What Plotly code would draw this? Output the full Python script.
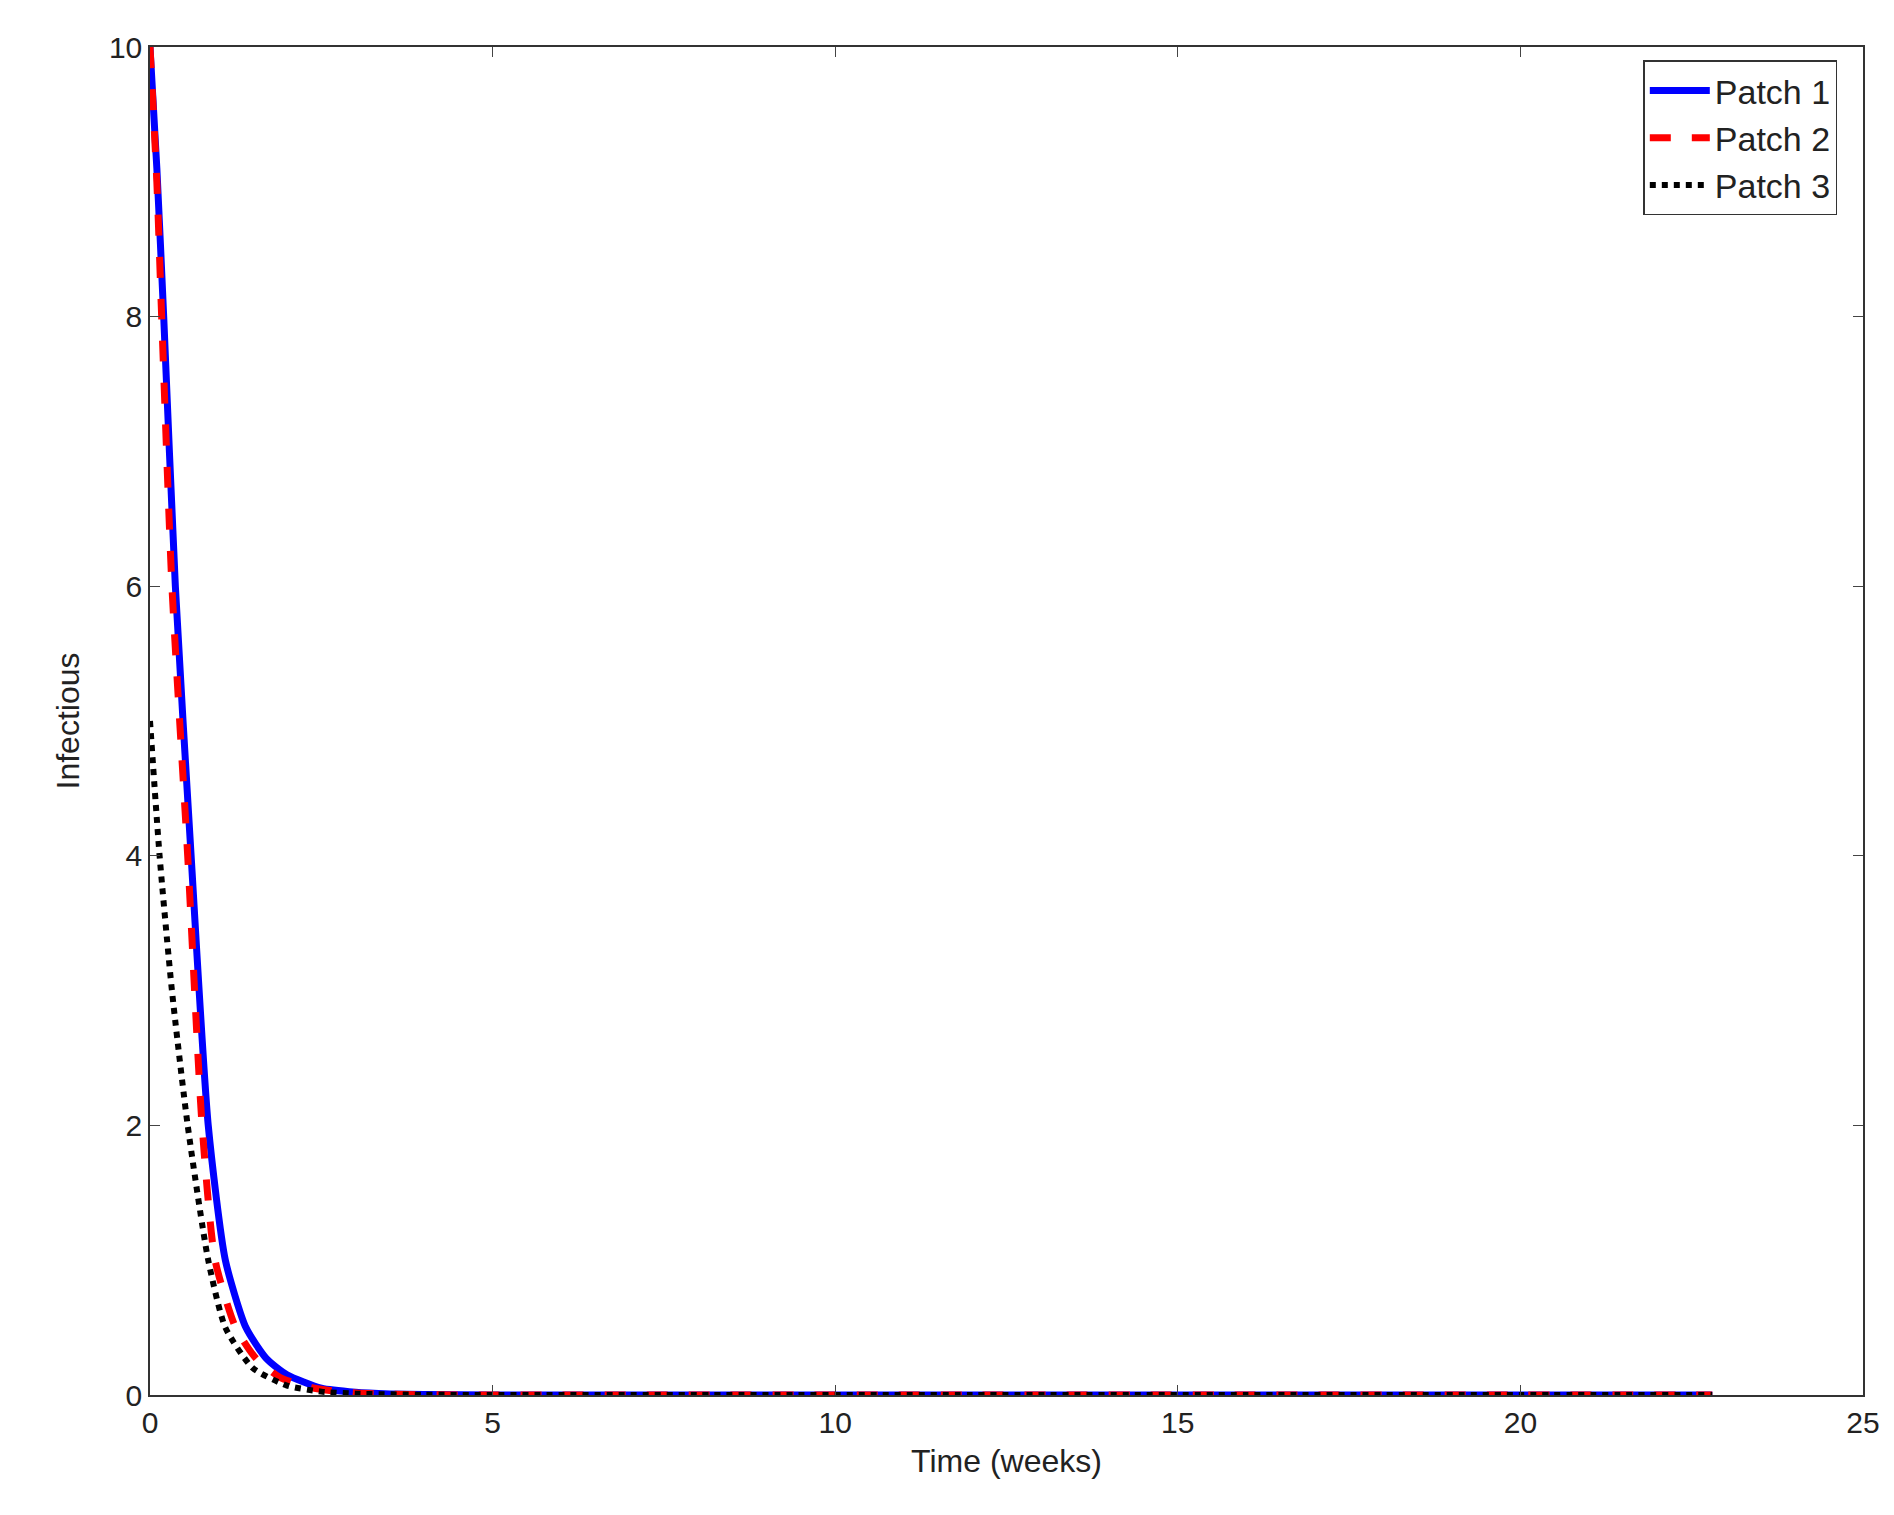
import plotly.graph_objects as go

t1 = [0, 0.1, 0.2, 0.37, 0.6, 0.85, 1.1, 1.4, 1.7, 2.0, 2.5, 3.0, 3.5, 4.0, 5, 8, 12, 16, 20, 22.8]
patch1 = [10, 9.1, 8.0, 6.0, 4.0, 2.0, 1.0, 0.5, 0.27, 0.15, 0.05, 0.02, 0.008, 0.003, 0, 0, 0, 0, 0, 0]
t2 = [0, 0.1, 0.17, 0.32, 0.55, 0.76, 0.95, 1.25, 1.55, 1.9, 2.4, 3.0, 3.5, 4.0, 5, 8, 12, 16, 20, 22.8]
patch2 = [10, 9.0, 8.0, 6.0, 4.0, 2.0, 1.0, 0.5, 0.27, 0.13, 0.05, 0.015, 0.006, 0.002, 0, 0, 0, 0, 0, 0]
t3 = [0, 0.14, 0.32, 0.55, 0.85, 1.1, 1.5, 2.0, 2.5, 3.0, 4.0, 5, 8, 12, 16, 20, 22.8]
patch3 = [5, 4.0, 3.0, 2.0, 1.0, 0.5, 0.2, 0.07, 0.025, 0.01, 0.002, 0, 0, 0, 0, 0, 0]
x_ticks = [0, 5, 10, 15, 20, 25]
y_ticks = [0, 2, 4, 6, 8, 10]

fig = go.Figure()
fig.add_trace(go.Scatter(x=t1, y=patch1, name="Patch 1", mode="lines", line=dict(color="#0000ff", width=7, shape="spline", smoothing=0.6)))
fig.add_trace(go.Scatter(x=t2, y=patch2, name="Patch 2", mode="lines", line=dict(color="#ff0000", width=7, dash="dash", shape="spline", smoothing=0.6)))
fig.add_trace(go.Scatter(x=t3, y=patch3, name="Patch 3", mode="lines", line=dict(color="#000000", width=6, dash="dot", shape="spline", smoothing=0.6)))

ax = dict(showline=True, linecolor="#333", linewidth=1.5, mirror="ticks", ticks="inside", ticklen=10,
          showgrid=False, zeroline=False, tickfont=dict(size=30, color="#222"))
fig.update_layout(
    width=1894, height=1515, plot_bgcolor="white", paper_bgcolor="white",
    font=dict(family="Liberation Sans, Arial", color="#222"),
    margin=dict(l=142, r=39, t=39, b=128),
    xaxis=dict(ax, range=[0, 25], tickvals=x_ticks, title=dict(text="Time (weeks)", font=dict(size=32), standoff=12)),
    yaxis=dict(ax, range=[0, 10], tickvals=y_ticks, title=dict(text="Infectious", font=dict(size=32), standoff=20)),
    legend=dict(x=0.985, y=0.99, xanchor="right", yanchor="top", bordercolor="#333", borderwidth=1.5,
                bgcolor="white", font=dict(size=34), itemwidth=60),
)
fig.write_html("out.html")
